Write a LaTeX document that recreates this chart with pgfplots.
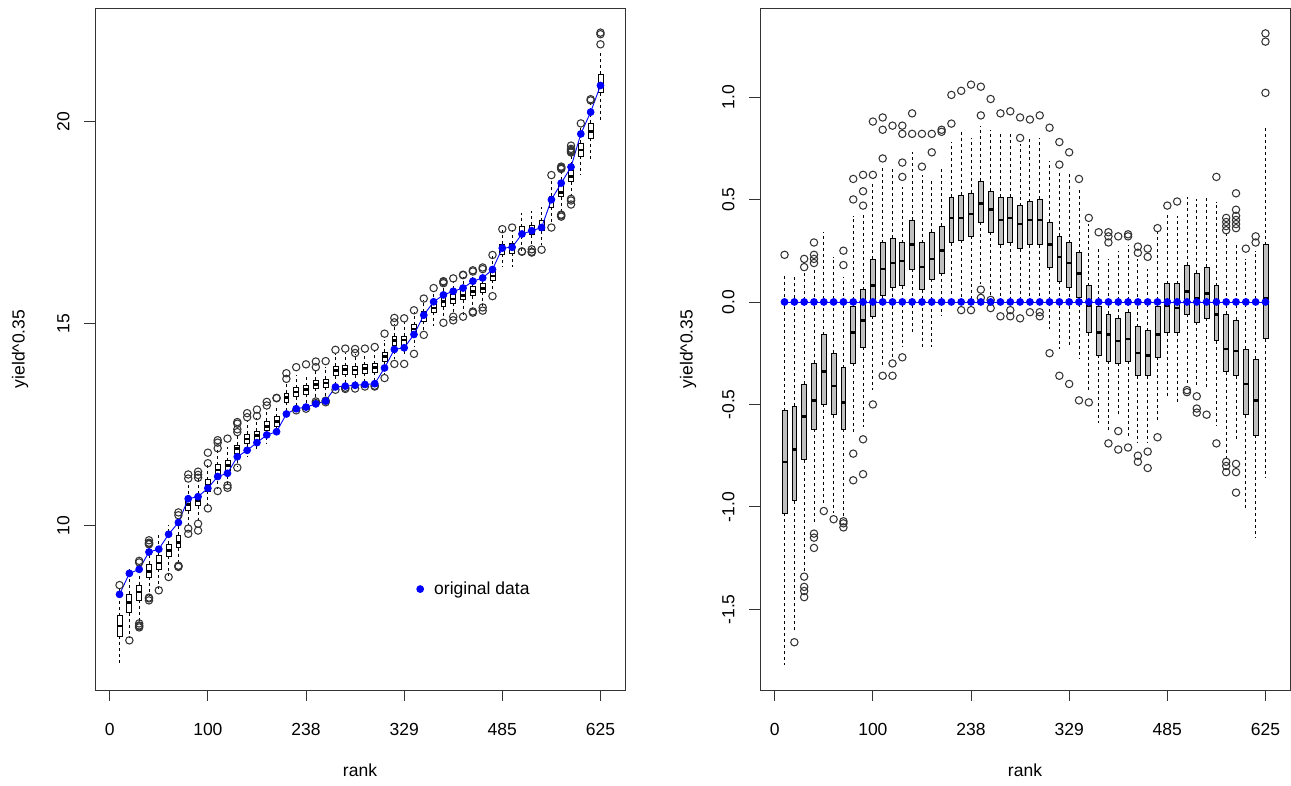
\documentclass[border=0pt]{standalone}
\usepackage{fontspec}
\setmainfont{Liberation Sans}
\usepackage{pgfplots}
\pgfplotsset{compat=1.18}
\usepgfplotslibrary{statistics}
\newcommand\fs{\fontsize{17.5}{21}\selectfont}
\pgfplotsset{
  bxs/.style={forget plot, draw=black, line width=0.8pt, mark=o, mark size=3.7pt,
    mark options={line width=1.05pt, draw=black!80, solid},
    boxplot/draw direction=y,
    boxplot/box extend=0.5, boxplot/whisker extend=0,
    boxplot/every box/.style={draw=black, fill=#1},
    boxplot/every median/.style={line width=2.6pt},
    boxplot/every whisker/.style={line width=0.9pt, dash pattern=on 3pt off 3pt}},
  rstyle/.style={scale only axis, width=530pt, height=682pt, xmin=-1.5, xmax=52.5,
    tick align=outside, tick pos=left, major tick length=11pt,
    axis line style={line width=0.9pt, black!80}, tick style={line width=0.9pt, black!80},
    xtick={0,10,20,30,40,50}, xticklabels={0,100,238,329,485,625},
    ticklabel style={font=\fs}, yticklabel style={rotate=90, anchor=south},
    xticklabel shift=19pt, yticklabel shift=11pt}
}
\newcommand\bl[7]{\addplot[bxs=white, boxplot prepared={draw position=#1, lower whisker=#2, lower quartile=#3, median=#4, upper quartile=#5, upper whisker=#6}] table[row sep=\\,y index=0]{y\\ #7};}
\newcommand\br[7]{\addplot[bxs=gray!50, boxplot prepared={draw position=#1, lower whisker=#2, lower quartile=#3, median=#4, upper quartile=#5, upper whisker=#6}] table[row sep=\\,y index=0]{y\\ #7};}
\pgfplotstableread{
x y
1 8.29
2 8.81
3 8.91
4 9.34
5 9.41
6 9.78
7 10.07
8 10.66
9 10.71
10 10.92
11 11.21
12 11.29
13 11.70
14 11.86
15 12.05
16 12.24
17 12.32
18 12.76
19 12.89
20 12.93
21 13.01
22 13.08
23 13.43
24 13.45
25 13.47
26 13.49
27 13.51
28 13.90
29 14.36
30 14.40
31 14.73
32 15.21
33 15.54
34 15.71
35 15.80
36 15.88
37 16.05
38 16.13
39 16.34
40 16.87
41 16.89
42 17.22
43 17.30
44 17.38
45 18.07
46 18.48
47 18.88
48 19.70
49 20.24
50 20.90
}\orig
\pgfplotstableread{
x y
1 0
2 0
3 0
4 0
5 0
6 0
7 0
8 0
9 0
10 0
11 0
12 0
13 0
14 0
15 0
16 0
17 0
18 0
19 0
20 0
21 0
22 0
23 0
24 0
25 0
26 0
27 0
28 0
29 0
30 0
31 0
32 0
33 0
34 0
35 0
36 0
37 0
38 0
39 0
40 0
41 0
42 0
43 0
44 0
45 0
46 0
47 0
48 0
49 0
50 0
}\zero
\begin{document}
\begin{tikzpicture}
\path[use as bounding box] (0,0) rectangle (1291pt,785pt);
\begin{axis}[rstyle, at={(95pt,95pt)}, anchor=south west,
  ymin=5.92, ymax=22.82, ytick={10,15,20}, yticklabels={10,15,20},
  legend style={at={(axis description cs:0.6,0.148)}, anchor=west, draw=none, fill=none, font=\fs},
  legend image code/.code={\fill[blue] (0pt,0pt) circle (3.4pt);\path[draw=none,fill=none] (-4pt,-4pt) rectangle (12pt,4pt);}]
\bl{1}{6.52}{7.26}{7.51}{7.76}{8.42}{8.52\\}
\bl{2}{7.21}{7.84}{8.09}{8.30}{8.93}{7.15\\}
\bl{3}{7.59}{8.14}{8.35}{8.51}{9.05}{9.12\\ 9.08\\ 7.57\\ 7.52\\ 7.50\\ 7.47\\}
\bl{4}{8.26}{8.72}{8.86}{9.04}{9.50}{9.63\\ 9.57\\ 9.55\\ 9.53\\ 8.21\\ 8.19\\ 8.14\\}
\bl{5}{8.43}{8.91}{9.07}{9.25}{9.75}{8.39\\}
\bl{6}{8.75}{9.23}{9.37}{9.53}{10.00}{8.72\\}
\bl{7}{9.02}{9.45}{9.58}{9.75}{10.19}{10.32\\ 10.25\\ 9.00\\ 8.99\\ 8.97\\}
\bl{8}{10.02}{10.36}{10.51}{10.64}{11.08}{11.26\\ 11.16\\ 9.92\\ 9.79\\}
\bl{9}{10.10}{10.49}{10.62}{10.77}{11.14}{11.33\\ 11.25\\ 11.18\\ 10.04\\ 9.87\\}
\bl{10}{10.49}{10.85}{11.00}{11.13}{11.51}{11.80\\ 11.54\\ 10.42\\}
\bl{11}{10.89}{11.24}{11.37}{11.50}{11.87}{12.11\\ 12.05\\ 11.91\\ 10.85\\}
\bl{12}{11.02}{11.36}{11.48}{11.60}{11.94}{12.15\\ 10.99\\ 10.93\\}
\bl{13}{11.48}{11.78}{11.90}{11.99}{12.26}{12.56\\ 12.52\\ 12.38\\ 12.31\\ 11.43\\}
\bl{14}{11.71}{12.02}{12.14}{12.26}{12.59}{12.78\\ 12.68\\}
\bl{15}{11.82}{12.11}{12.22}{12.34}{12.67}{12.87\\ 12.71\\}
\bl{16}{12.02}{12.35}{12.45}{12.58}{12.83}{13.06\\ 12.97\\}
\bl{17}{12.25}{12.46}{12.57}{12.69}{12.98}{13.16\\ 13.15\\}
\bl{18}{12.79}{13.05}{13.17}{13.27}{13.54}{13.77\\ 13.63\\}
\bl{19}{12.91}{13.19}{13.30}{13.41}{13.72}{13.92\\ 12.85\\}
\bl{20}{12.94}{13.25}{13.36}{13.46}{13.73}{13.99\\ 12.89\\}
\bl{21}{13.10}{13.40}{13.49}{13.60}{13.87}{14.06\\ 13.92\\ 13.07\\ 13.03\\}
\bl{22}{13.11}{13.42}{13.53}{13.62}{13.92}{14.07\\ 13.09\\ 13.05\\}
\bl{23}{13.44}{13.71}{13.83}{13.94}{14.25}{14.35\\ 13.36\\}
\bl{24}{13.46}{13.74}{13.86}{13.96}{14.28}{14.38\\ 13.41\\ 13.38\\}
\bl{25}{13.46}{13.73}{13.85}{13.94}{14.24}{14.37\\ 14.27\\ 13.39\\}
\bl{26}{13.52}{13.77}{13.89}{13.98}{14.30}{14.38\\ 13.44\\}
\bl{27}{13.54}{13.79}{13.91}{14.01}{14.31}{14.42\\ 13.46\\ 13.44\\}
\bl{28}{13.77}{14.07}{14.18}{14.29}{14.59}{14.75\\ 13.65\\}
\bl{29}{14.13}{14.46}{14.58}{14.68}{15.00}{15.14\\ 15.03\\ 14.00\\}
\bl{30}{14.19}{14.47}{14.59}{14.69}{15.03}{15.13\\ 14.00\\}
\bl{31}{14.45}{14.75}{14.87}{14.97}{15.29}{15.33\\ 14.25\\}
\bl{32}{14.78}{15.06}{15.19}{15.29}{15.59}{15.62\\ 14.72\\}
\bl{33}{14.95}{15.28}{15.39}{15.52}{15.81}{15.88\\}
\bl{34}{15.08}{15.42}{15.55}{15.65}{15.92}{16.05\\ 16.03\\ 16.00\\ 15.02\\}
\bl{35}{15.25}{15.50}{15.61}{15.72}{16.05}{16.12\\ 15.17\\ 15.08\\}
\bl{36}{15.22}{15.59}{15.70}{15.83}{16.16}{16.21\\ 16.20\\ 15.17\\}
\bl{37}{15.36}{15.69}{15.80}{15.93}{16.26}{16.32\\ 16.29\\ 15.30\\ 15.27\\}
\bl{38}{15.44}{15.77}{15.87}{15.99}{16.29}{16.39\\ 16.35\\ 15.40\\ 15.32\\}
\bl{39}{15.76}{16.07}{16.18}{16.32}{16.68}{16.70\\ 15.68\\}
\bl{40}{16.40}{16.72}{16.85}{16.96}{17.31}{17.34\\}
\bl{41}{16.40}{16.74}{16.86}{16.98}{17.31}{17.38\\}
\bl{42}{16.81}{17.16}{17.27}{17.40}{17.73}{16.79\\ 16.78\\}
\bl{43}{16.88}{17.20}{17.32}{17.44}{17.80}{16.84\\ 16.78\\ 16.76\\}
\bl{44}{16.95}{17.30}{17.42}{17.55}{17.90}{16.83\\}
\bl{45}{17.47}{17.88}{18.01}{18.15}{18.56}{18.68\\ 17.38\\}
\bl{46}{17.72}{18.14}{18.25}{18.42}{18.81}{18.89\\ 18.87\\ 18.85\\ 18.83\\ 17.70\\ 17.68\\ 17.65\\}
\bl{47}{18.21}{18.52}{18.64}{18.79}{19.17}{19.41\\ 19.33\\ 19.30\\ 19.28\\ 19.26\\ 19.24\\ 18.09\\ 18.05\\ 17.95\\}
\bl{48}{18.69}{19.15}{19.30}{19.47}{19.91}{19.96\\}
\bl{49}{19.09}{19.59}{19.76}{19.96}{20.49}{20.56\\ 20.53\\}
\bl{50}{20.04}{20.72}{20.92}{21.18}{21.76}{22.21\\ 22.17\\ 21.92\\}
\addplot[blue, line width=0.9pt, mark=*, mark size=3.4pt, mark options={fill=blue, draw=blue}] table[x=x, y=y] {\orig};
\addlegendentry{original data}
\end{axis}
\begin{axis}[rstyle, at={(760pt,95pt)}, anchor=south west,
  ymin=-1.893, ymax=1.434, ytick={-1.5,-1,-0.5,0,0.5,1}, yticklabels={{-1.5},{-1.0},{-0.5},{0.0},{0.5},{1.0}}]
\br{1}{-1.77}{-1.03}{-0.78}{-0.53}{0.13}{0.23\\}
\br{2}{-1.60}{-0.97}{-0.72}{-0.51}{0.12}{-1.66\\}
\br{3}{-1.32}{-0.77}{-0.56}{-0.40}{0.14}{0.21\\ 0.17\\ -1.34\\ -1.39\\ -1.41\\ -1.44\\}
\br{4}{-1.08}{-0.62}{-0.48}{-0.30}{0.16}{0.29\\ 0.23\\ 0.21\\ 0.19\\ -1.13\\ -1.15\\ -1.20\\}
\br{5}{-0.98}{-0.50}{-0.34}{-0.16}{0.34}{-1.02\\}
\br{6}{-1.03}{-0.55}{-0.41}{-0.25}{0.22}{-1.06\\}
\br{7}{-1.05}{-0.62}{-0.49}{-0.32}{0.12}{0.25\\ 0.18\\ -1.07\\ -1.08\\ -1.10\\}
\br{8}{-0.64}{-0.30}{-0.15}{-0.02}{0.42}{0.60\\ 0.50\\ -0.74\\ -0.87\\}
\br{9}{-0.61}{-0.22}{-0.09}{0.06}{0.43}{0.62\\ 0.54\\ 0.47\\ -0.67\\ -0.84\\}
\br{10}{-0.43}{-0.07}{0.08}{0.21}{0.59}{0.88\\ 0.62\\ -0.50\\}
\br{11}{-0.32}{0.03}{0.16}{0.29}{0.66}{0.90\\ 0.84\\ 0.70\\ -0.36\\}
\br{12}{-0.27}{0.07}{0.19}{0.31}{0.65}{0.86\\ -0.30\\ -0.36\\}
\br{13}{-0.22}{0.08}{0.20}{0.29}{0.56}{0.86\\ 0.82\\ 0.68\\ 0.61\\ -0.27\\}
\br{14}{-0.15}{0.16}{0.28}{0.40}{0.73}{0.92\\ 0.82\\}
\br{15}{-0.23}{0.06}{0.17}{0.29}{0.62}{0.82\\ 0.66\\}
\br{16}{-0.22}{0.11}{0.21}{0.34}{0.59}{0.82\\ 0.73\\}
\br{17}{-0.07}{0.14}{0.25}{0.37}{0.66}{0.84\\ 0.83\\}
\br{18}{0.03}{0.29}{0.41}{0.51}{0.78}{1.01\\ 0.87\\}
\br{19}{0.02}{0.30}{0.41}{0.52}{0.83}{1.03\\ -0.04\\}
\br{20}{0.01}{0.32}{0.43}{0.53}{0.80}{1.06\\ -0.04\\}
\br{21}{0.09}{0.39}{0.48}{0.59}{0.86}{1.05\\ 0.91\\ 0.06\\ 0.02\\}
\br{22}{0.03}{0.34}{0.45}{0.54}{0.84}{0.99\\ 0.01\\ -0.03\\}
\br{23}{0.01}{0.28}{0.40}{0.51}{0.82}{0.92\\ -0.07\\}
\br{24}{0.01}{0.29}{0.41}{0.51}{0.83}{0.93\\ -0.04\\ -0.07\\}
\br{25}{-0.01}{0.26}{0.38}{0.47}{0.77}{0.90\\ 0.80\\ -0.08\\}
\br{26}{0.03}{0.28}{0.40}{0.49}{0.81}{0.89\\ -0.05\\}
\br{27}{0.03}{0.28}{0.40}{0.50}{0.80}{0.91\\ -0.05\\ -0.07\\}
\br{28}{-0.13}{0.17}{0.28}{0.39}{0.69}{0.85\\ -0.25\\}
\br{29}{-0.23}{0.10}{0.22}{0.32}{0.64}{0.78\\ 0.67\\ -0.36\\}
\br{30}{-0.21}{0.07}{0.19}{0.29}{0.63}{0.73\\ -0.40\\}
\br{31}{-0.28}{0.02}{0.14}{0.24}{0.56}{0.60\\ -0.48\\}
\br{32}{-0.43}{-0.15}{-0.02}{0.08}{0.38}{0.41\\ -0.49\\}
\br{33}{-0.59}{-0.26}{-0.15}{-0.02}{0.27}{0.34\\}
\br{34}{-0.63}{-0.29}{-0.16}{-0.06}{0.21}{0.34\\ 0.32\\ 0.29\\ -0.69\\}
\br{35}{-0.55}{-0.30}{-0.19}{-0.08}{0.25}{0.32\\ -0.63\\ -0.72\\}
\br{36}{-0.66}{-0.29}{-0.18}{-0.05}{0.28}{0.33\\ 0.32\\ -0.71\\}
\br{37}{-0.69}{-0.36}{-0.25}{-0.12}{0.21}{0.27\\ 0.24\\ -0.75\\ -0.78\\}
\br{38}{-0.69}{-0.36}{-0.26}{-0.14}{0.16}{0.26\\ 0.22\\ -0.73\\ -0.81\\}
\br{39}{-0.58}{-0.27}{-0.16}{-0.02}{0.34}{0.36\\ -0.66\\}
\br{40}{-0.47}{-0.15}{-0.02}{0.09}{0.44}{0.47\\}
\br{41}{-0.49}{-0.15}{-0.03}{0.09}{0.42}{0.49\\}
\br{42}{-0.41}{-0.06}{0.05}{0.18}{0.51}{-0.43\\ -0.44\\}
\br{43}{-0.42}{-0.10}{0.02}{0.14}{0.50}{-0.46\\ -0.52\\ -0.54\\}
\br{44}{-0.43}{-0.08}{0.04}{0.17}{0.52}{-0.55\\}
\br{45}{-0.60}{-0.19}{-0.06}{0.08}{0.49}{0.61\\ -0.69\\}
\br{46}{-0.76}{-0.34}{-0.23}{-0.06}{0.33}{0.41\\ 0.39\\ 0.37\\ 0.35\\ -0.78\\ -0.80\\ -0.83\\}
\br{47}{-0.67}{-0.36}{-0.24}{-0.09}{0.29}{0.53\\ 0.45\\ 0.42\\ 0.40\\ 0.38\\ 0.36\\ -0.79\\ -0.83\\ -0.93\\}
\br{48}{-1.01}{-0.55}{-0.40}{-0.23}{0.21}{0.26\\}
\br{49}{-1.15}{-0.65}{-0.48}{-0.28}{0.25}{0.32\\ 0.29\\}
\br{50}{-0.86}{-0.18}{0.02}{0.28}{0.86}{1.31\\ 1.27\\ 1.02\\}
\addplot[blue, line width=0.9pt, mark=*, mark size=3.4pt, mark options={fill=blue, draw=blue}] table[x=x, y=y] {\zero};
\end{axis}
\node[font=\fs] at (360pt,15pt) {rank};
\node[font=\fs] at (1025pt,15pt) {rank};
\node[font=\fs, rotate=90] at (20pt,436pt) {yield\textasciicircum0.35};
\node[font=\fs, rotate=90] at (688pt,436pt) {yield\textasciicircum0.35};
\end{tikzpicture}
\end{document}
